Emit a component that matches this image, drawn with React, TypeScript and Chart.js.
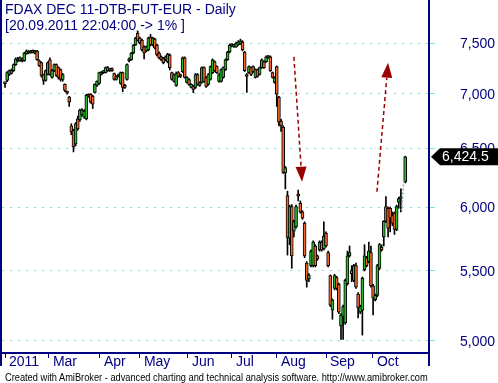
import React, { useEffect, useRef } from 'react';
import { Chart, registerables } from 'chart.js';

Chart.register(...registerables);

// ---- data (bar index = trading day) ----
const opens: (number | null)[] = [
  7100, 7127, 7185, 7195, 7224, 7282, 7321, 7321, 7340, 7321,
  7389, 7419, 7399, 7425, 7395, 7419, 7321, 7302, 7185, 7127,
  7185, 7331, 7156, 7224, 7282, 7253, 7233, 7137, 7089, 7015,
  6967, 6700, 6660, 6537, 6764, 6755, 6800, 6781, 6764, 6995,
  6995, 6976, 7013, 7080, 7098, 7185, 7204, 7204, 7253, 7224,
  7240, 7195, 7137, 7166, 7098, 7204, 7075, 7137, 7321, 7331,
  7399, 7480, 7602, 7551, 7530, 7460, 7419, 7429, 7560, 7480,
  7540, 7480, 7399, 7360, 7345, 7331, 7311, 7379, 7204, 7118,
  7080, 7204, 7166, 7214, 7350, 7108, 7137, 7061, 7070, 7061,
  7185, 7080, 7108, 7253, 7156, 7089, 7137, 7204, 7311, 7263,
  7118, 7118, 7156, 7233, 7331, 7409, 7480, 7465, 7460, 7480,
  7490, 7510, 7409, 7185, 7204, 7253, 7263, 7156, 7233, 7185,
  7253, 7311, 7311, 7350, 7360, 7204, 7108, 7263, 6967, 6745,
  6690, 6285, 6094, 5750, 6004, 5805, 5840, 6100, 6030, 5960,
  5870, 5560, 5440, 5540, 5540, 5690, 5614, 5660, 5720, 5670,
  5790, 5640, 5465, 5215, 5370, 5450, 5400, 5104, 5170, 5125,
  5405, 5614, 5502, 5430, 5540, 5330, 5200, 5215, 5510, 5600,
  5570, 5640, 5390, 5290, 5320, 5520, 5680, 5760, 6004, 5990,
  5990, 5930, 5950, 5820, 6040, 6070, null, 6210,
];
const highs: (number | null)[] = [
  7102, 7215, 7230, 7240, 7290, 7350, 7355, 7360, 7350, 7405,
  7430, 7425, 7425, 7430, 7425, 7425, 7330, 7310, 7190, 7230,
  7310, 7350, 7235, 7290, 7290, 7260, 7240, 7195, 7095, 7025,
  6975, 6720, 6670, 6730, 6790, 6855, 6860, 6850, 6995, 7000,
  7000, 6985, 7095, 7125, 7210, 7215, 7225, 7260, 7265, 7245,
  7250, 7200, 7175, 7190, 7210, 7210, 7090, 7290, 7350, 7405,
  7485, 7560, 7625, 7560, 7540, 7470, 7470, 7560, 7590, 7560,
  7550, 7490, 7410, 7370, 7355, 7370, 7395, 7390, 7210, 7190,
  7210, 7215, 7190, 7360, 7360, 7165, 7145, 7095, 7080, 7195,
  7195, 7115, 7260, 7260, 7165, 7195, 7270, 7340, 7320, 7270,
  7195, 7240, 7260, 7340, 7415, 7490, 7495, 7480, 7510, 7525,
  7540, 7525, 7415, 7195, 7270, 7260, 7270, 7240, 7240, 7260,
  7340, 7320, 7370, 7375, 7370, 7210, 7165, 7270, 6975, 6760,
  6700, 6340, 6130, 6015, 6020, 5895, 6015, 6140, 6050, 5970,
  5880, 5570, 5480, 5660, 5730, 5700, 5620, 5730, 5730, 5880,
  5800, 5650, 5470, 5295, 5475, 5460, 5410, 5190, 5250, 5440,
  5650, 5690, 5540, 5550, 5560, 5340, 5250, 5455, 5700, 5610,
  5720, 5690, 5400, 5330, 5550, 5710, 5700, 5890, 6085, 6000,
  6000, 5960, 5960, 6015, 6080, 6150, null, 6430,
];
const lows: (number | null)[] = [
  7060, 7115, 7175, 7190, 7215, 7275, 7310, 7315, 7310, 7315,
  7385, 7390, 7395, 7400, 7390, 7325, 7265, 7160, 7089, 7120,
  7180, 7176, 7150, 7215, 7166, 7140, 7120, 7120, 7020, 6995,
  6880, 6620, 6467, 6520, 6660, 6740, 6790, 6770, 6755, 6965,
  6910, 6860, 7005, 7070, 7090, 7180, 7195, 7200, 7215, 7215,
  7215, 7130, 7130, 7160, 7090, 7020, 7050, 7130, 7310, 7325,
  7390, 7475, 7520, 7490, 7420, 7340, 7410, 7420, 7470, 7470,
  7440, 7370, 7340, 7320, 7290, 7320, 7300, 7230, 7130, 7110,
  7070, 7160, 7155, 7205, 7150, 7100, 7080, 7055, 7010, 7050,
  7080, 7070, 7100, 7110, 7060, 7080, 7130, 7195, 7215, 7195,
  7110, 7110, 7150, 7225, 7325, 7400, 7460, 7455, 7455, 7475,
  7485, 7420, 7215, 7013, 7195, 7175, 7205, 7150, 7160, 7180,
  7245, 7245, 7305, 7345, 7215, 7150, 7100, 6880, 6700, 6650,
  6280, 6150, 5620, 5700, 5520, 5760, 5830, 6050, 5950, 5900,
  5600, 5380, 5420, 5530, 5530, 5530, 5580, 5650, 5650, 5660,
  5680, 5530, 5240, 5150, 5360, 5360, 5190, 5011, 5011, 5115,
  5395, 5605, 5420, 5420, 5370, 5160, 5190, 5040, 5500, 5530,
  5560, 5380, 5180, 5280, 5310, 5510, 5650, 5690, 5875, 5760,
  5800, 5850, 5780, 5810, 5990, 5960, null, 6200,
];
const closes: (number | null)[] = [
  7096, 7204, 7224, 7224, 7282, 7340, 7340, 7350, 7321, 7399,
  7419, 7399, 7419, 7405, 7419, 7331, 7273, 7176, 7127, 7224,
  7302, 7185, 7224, 7282, 7176, 7156, 7137, 7185, 7032, 7005,
  6920, 6645, 6511, 6718, 6673, 6845, 6845, 6836, 6985, 6976,
  6920, 6900, 7089, 7118, 7204, 7204, 7214, 7253, 7224, 7236,
  7224, 7137, 7166, 7185, 7204, 7061, 7060, 7282, 7340, 7399,
  7480, 7551, 7530, 7500, 7429, 7399, 7460, 7551, 7480, 7551,
  7450, 7379, 7350, 7331, 7302, 7360, 7389, 7253, 7137, 7185,
  7195, 7166, 7180, 7350, 7156, 7156, 7089, 7089, 7042, 7185,
  7089, 7108, 7253, 7118, 7070, 7185, 7263, 7331, 7224, 7204,
  7185, 7233, 7253, 7331, 7409, 7480, 7470, 7470, 7500, 7510,
  7520, 7429, 7224, 7166, 7263, 7185, 7214, 7233, 7166, 7253,
  7331, 7253, 7360, 7360, 7224, 7156, 7156, 6995, 6735, 6700,
  6290, 6330, 5757, 6004, 5614, 5884, 6004, 6090, 5960, 5910,
  5614, 5430, 5470, 5650, 5720, 5540, 5590, 5720, 5660, 5766,
  5690, 5540, 5250, 5286, 5465, 5370, 5200, 5181, 5240, 5430,
  5614, 5640, 5480, 5540, 5380, 5230, 5240, 5445, 5614, 5540,
  5650, 5390, 5300, 5320, 5540, 5700, 5660, 5884, 5884, 5830,
  5910, 5870, 5820, 6004, 6070, 6080, null, 6424.5,
];

const monthTickIdx = [0, 20.56, 44.39, 63.08, 85.51, 106.07, 127.1, 150, 171.96];
const monthLabels = ['2011', 'Mar', 'Apr', 'May', 'Jun', 'Jul', 'Aug', 'Sep', 'Oct'];
const priceTicks = [5000, 5500, 6000, 6500, 7000, 7500];

// annotation arrows (bar index, price)
const arrowStartIdx = [135.0, 173.8];
const arrowStartPrice = [7360, 6126];
const arrowTipIdx = [138.8, 179.0];
const arrowTipPrice = [6210, 7302];
// gray dashed stroke near the last bar
const grayIdx = [185.3, 186.4];
const grayPrice = [5972, 6218];

const TITLE1 = 'FDAX DEC 11-DTB-FUT-EUR - Daily';
const TITLE2 = '[20.09.2011 22:04:00 -> 1% ]';
const FOOTER = 'Created with AmiBroker - advanced charting and technical analysis software. http://www.amibroker.com';

const NAVY = '#000080';
const CYAN = '#86dcdc';
const GREEN = '#2cb82c';
const ORANGE = '#f3662a';
const RED = '#9b0000';
const FONT = '"Liberation Sans", Arial, sans-serif';

export default function App() {
  const canvasRef = useRef<HTMLCanvasElement>(null);
  const footRef = useRef<HTMLSpanElement>(null);

  useEffect(() => {
    document.body.style.margin = '0';
    const canvas = canvasRef.current!;
    const wick: any[] = [];
    const body: any[] = [];
    const colors: string[] = [];
    for (let i = 0; i < closes.length; i++) {
      const o = opens[i], h = highs[i], l = lows[i], c = closes[i];
      if (o == null || h == null || l == null || c == null) continue;
      wick.push({ x: i, y: [l, h] });
      body.push({ x: i, y: [Math.min(o, c), Math.max(o, c)] });
      colors.push(c >= o ? GREEN : ORANGE);
    }

    const overlay = {
      id: 'overlay',
      afterDraw(chart: any) {
        const ctx = chart.ctx as CanvasRenderingContext2D;
        const xs = chart.scales.x;
        const ys = chart.scales.y;
        const area = chart.chartArea;
        ctx.save();
        // frame lines
        ctx.fillStyle = NAVY;
        ctx.fillRect(0, 0, 2, 366);
        ctx.fillRect(area.right - 1, area.bottom, 2, 366 - area.bottom);

        // gray dashed stroke
        ctx.strokeStyle = '#8fa3b3';
        ctx.lineWidth = 1.5;
        ctx.setLineDash([2, 2]);
        ctx.beginPath();
        ctx.moveTo(xs.getPixelForValue(grayIdx[0]), ys.getPixelForValue(grayPrice[0]));
        ctx.lineTo(xs.getPixelForValue(grayIdx[1]), ys.getPixelForValue(grayPrice[1]));
        ctx.stroke();

        // arrows
        for (let k = 0; k < arrowStartIdx.length; k++) {
          const x1 = xs.getPixelForValue(arrowStartIdx[k]);
          const y1 = ys.getPixelForValue(arrowStartPrice[k]);
          const x2 = xs.getPixelForValue(arrowTipIdx[k]);
          const y2 = ys.getPixelForValue(arrowTipPrice[k]);
          const dx = x2 - x1, dy = y2 - y1;
          const len = Math.hypot(dx, dy);
          const ux = dx / len, uy = dy / len;
          const headLen = 15, headHalf = 5.5;
          const bx = x2 - ux * headLen, by = y2 - uy * headLen;
          ctx.strokeStyle = RED;
          ctx.lineWidth = 1.5;
          ctx.setLineDash([4, 3]);
          ctx.beginPath();
          ctx.moveTo(x1, y1);
          ctx.lineTo(bx, by);
          ctx.stroke();
          ctx.setLineDash([]);
          ctx.fillStyle = RED;
          ctx.beginPath();
          ctx.moveTo(x2, y2);
          ctx.lineTo(bx - uy * headHalf, by + ux * headHalf);
          ctx.lineTo(bx + uy * headHalf, by - ux * headHalf);
          ctx.closePath();
          ctx.fill();
        }

        // last price box
        const last = closes[closes.length - 1] as number;
        const py = ys.getPixelForValue(last);
        const tipX = area.right + 2;
        ctx.fillStyle = '#000';
        ctx.beginPath();
        ctx.moveTo(tipX, py);
        ctx.lineTo(tipX + 9, py - 8.5);
        ctx.lineTo(498, py - 8.5);
        ctx.lineTo(498, py + 8.5);
        ctx.lineTo(tipX + 9, py + 8.5);
        ctx.closePath();
        ctx.fill();
        ctx.fillStyle = '#fff';
        ctx.font = '14px ' + FONT;
        ctx.textBaseline = 'middle';
        ctx.textAlign = 'left';
        ctx.fillText(
          last.toLocaleString('en-US', { minimumFractionDigits: 1, maximumFractionDigits: 1 }),
          442,
          py + 0.5
        );
        ctx.restore();
      },
    };

    const chart = new Chart(canvas, {
      type: 'bar',
      data: {
        datasets: [
          {
            label: 'body',
            data: body,
            backgroundColor: colors,
            borderColor: '#000',
            borderWidth: 1,
            borderSkipped: false,
            barThickness: 3,
            grouped: false,
            minBarLength: 2,
            order: 0,
          } as any,
          {
            label: 'wick',
            data: wick,
            backgroundColor: '#000',
            borderWidth: 0,
            barThickness: 1,
            grouped: false,
            order: 1,
          } as any,
        ],
      },
      options: {
        responsive: false,
        animation: false,
        devicePixelRatio: 1,
        layout: { padding: { left: 2, top: 0, right: 0, bottom: 0 } },
        plugins: {
          legend: { display: false },
          tooltip: { enabled: false },
          title: { display: false },
        },
        scales: {
          x: {
            type: 'linear',
            min: -1.402,
            max: 198.13,
            bounds: 'data',
            offset: false,
            position: 'bottom',
            afterBuildTicks: (s: any) => {
              s.ticks = monthTickIdx.map((v) => ({ value: v }));
            },
            afterFit: (s: any) => {
              s.height = 30;
              s.paddingLeft = 0;
              s.paddingRight = 0;
            },
            ticks: {
              autoSkip: false,
              maxRotation: 0,
              minRotation: 0,
              align: 'start',
              padding: -4,
              color: NAVY,
              font: { family: FONT, size: 14 },
              callback: (_v: any, i: number) => ' ' + monthLabels[i],
            },
            grid: {
              offset: false,
              drawOnChartArea: false,
              drawTicks: true,
              tickLength: 5,
              tickColor: NAVY,
              color: NAVY,
            },
            border: { display: true, color: NAVY, width: 2 },
          } as any,
          y: {
            type: 'logarithmic',
            position: 'right',
            min: 4919,
            max: 7952,
            bounds: 'data',
            afterBuildTicks: (s: any) => {
              s.ticks = priceTicks.map((v) => ({ value: v }));
            },
            afterFit: (s: any) => {
              s.width = 69;
              s.paddingTop = 0;
              s.paddingBottom = 0;
            },
            ticks: {
              autoSkip: false,
              padding: 25,
              labelOffset: 1,
              color: NAVY,
              font: { family: FONT, size: 14 },
              callback: (v: any) => Number(v).toLocaleString('en-US'),
            },
            grid: {
              color: CYAN,
              lineWidth: 1,
              drawTicks: true,
              tickLength: 6,
              tickColor: CYAN,
              tickBorderDash: [],
            },
            border: { display: true, color: NAVY, width: 2, dash: [2, 6] },
          } as any,
        },
      },
      plugins: [overlay],
    });

    const f = footRef.current;
    if (f) {
      const w = f.offsetWidth;
      if (w > 0) f.style.transform = `scaleX(${423 / w})`;
    }

    return () => {
      chart.destroy();
    };
  }, []);

  return (
    <div
      style={{
        position: 'fixed',
        left: 0,
        top: 0,
        width: 498,
        height: 383,
        background: '#fff',
        overflow: 'hidden',
      }}
    >
      <canvas ref={canvasRef} width={498} height={383} style={{ display: 'block' }} />
      <div
        style={{
          position: 'absolute',
          left: 5,
          top: 1,
          font: '14px/16px ' + FONT,
          color: NAVY,
          whiteSpace: 'pre',
        }}
      >
        {TITLE1}
        <br />
        {TITLE2}
      </div>
      <div style={{ position: 'absolute', left: 5, top: 367, whiteSpace: 'nowrap' }}>
        <span
          ref={footRef}
          style={{
            display: 'inline-block',
            transformOrigin: '0 0',
            font: '11px/13px ' + FONT,
            color: '#000',
            whiteSpace: 'nowrap',
          }}
        >
          {FOOTER}
        </span>
      </div>
    </div>
  );
}
